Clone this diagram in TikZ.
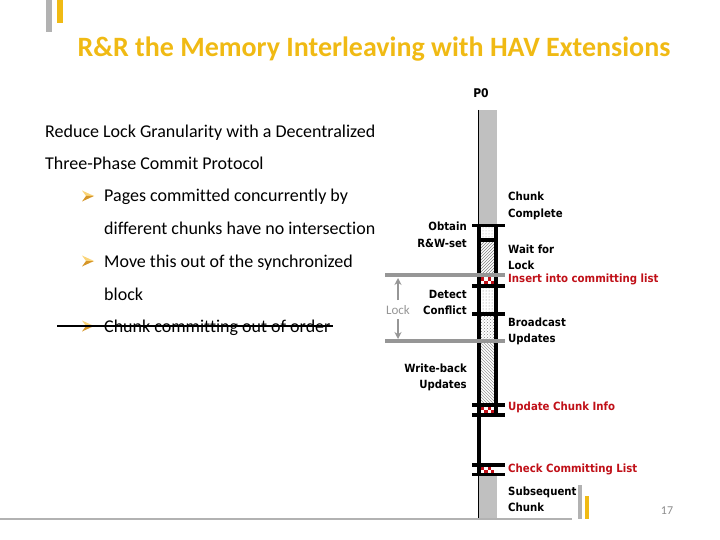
\documentclass[tikz,border=0pt]{standalone}
\usepackage{fontspec}
\setmainfont{Carlito}[Ligatures=CommonOff]
\newfontfamily\lab{DejaVu Sans Condensed}
\usetikzlibrary{patterns,arrows.meta}
\definecolor{ttl}{RGB}{240,186,20}
\definecolor{dred}{RGB}{192,16,24}
\definecolor{lgray}{RGB}{192,192,192}
\definecolor{lockgray}{RGB}{150,150,150}
\definecolor{bulA}{RGB}{250,212,120}
\definecolor{bulB}{RGB}{214,150,40}
\definecolor{pgnum}{RGB}{140,140,140}
\tikzset{
  titletext/.style={font=\bfseries\fontsize{28}{32}\selectfont, text=ttl, inner sep=0},
  body/.style={font=\fontsize{18}{21}\selectfont, inner sep=0, anchor=base west},
  lbl/.style={font=\lab\bfseries\fontsize{11.3}{16.5}\selectfont, inner sep=0},
  lblL/.style={lbl, anchor=west, align=left},
  lblR/.style={lbl, anchor=east, align=right},
  redlbl/.style={lblL, text=dred},
  tick/.style={fill=black},
  lockline/.style={lockgray, line width=4pt},
  lockarrow/.style={lockgray, line width=2pt, -{Stealth[length=7pt,width=7pt]}},
}
\newcommand{\bulletarrow}[2]{%
  \fill[bulA] (#1-6,#2-5.5) -- (#1+6,#2) -- (#1-2,#2) -- cycle;
  \fill[bulB] (#1-6,#2+5.5) -- (#1+6,#2) -- (#1-2,#2) -- cycle;}
\newcommand{\checkrow}[2]{% top y, height
  \fill[white] (481,#1) rectangle (494,#1+#2);
  \foreach \i in {0,1,2,3}{
    \pgfmathsetmacro{\xa}{481+\i*3.25}
    \ifodd\i
      \fill[dred] (\xa,#1+#2/2) rectangle (\xa+3.25,#1+#2);
    \else
      \fill[dred] (\xa,#1) rectangle (\xa+3.25,#1+#2/2);
    \fi
  }}
\begin{document}
\begin{tikzpicture}[x=1pt,y=-1pt]
\useasboundingbox (0,0) rectangle (720,540);
% decoration top-left
\fill[gray!60] (46,0) rectangle (52,32);
\fill[ttl] (57,0) rectangle (63,23);
\node[titletext, anchor=base] (title) at (374,57) {R\&R the Memory Interleaving with HAV Extensions};
% body text
\node[body] (l1) at (45,138) {Reduce Lock Granularity with a Decentralized};
\node[body] (l2) at (45,170) {Three-Phase Commit Protocol};
\node[body] (b1a) at (104,202) {Pages committed concurrently by};
\node[body] (b1b) at (104,235) {different chunks have no intersection};
\node[body] (b2a) at (104,267) {Move this out of the synchronized};
\node[body] (b2b) at (104,300) {block};
\node[body] (b3) at (104,332) {Chunk committing out of order};
\bulletarrow{88}{196}
\bulletarrow{88}{261}
\bulletarrow{88}{326}
\draw[line width=1.3pt] (57,326) -- (333,326);
% P0 column
\node[font=\lab\bfseries\fontsize{12}{14}\selectfont, inner sep=0] (p0) at (481,93) {P0};
\fill[lgray] (478,110) rectangle (497,225);
\draw[line width=0.8pt] (478.4,110) -- (478.4,225);
% segments
\fill[white] (481,227) rectangle (494,403);
\fill[pattern=dots, pattern color=gray!70] (481,227.5) rectangle (494,238);
\fill[pattern=north east lines, pattern color=gray] (481,241.5) rectangle (494,273);
\checkrow{277}{7}
\fill[pattern=dots, pattern color=gray] (481,288) rectangle (494,312);
\fill[pattern=crosshatch dots, pattern color=gray] (481,316) rectangle (494,339);
\fill[pattern=north west lines, pattern color=gray!80] (481,343) rectangle (494,403);
\checkrow{407}{5.5}
\checkrow{467}{5.5}
% borders
\fill (477,224) rectangle (481,476);
\fill (494,224) rectangle (498,416.5);
\fill (477,238) rectangle (498,241.5);
% ticks
\fill[tick] (472,224) rectangle (505,227.5);
\fill[tick] (472,284) rectangle (505,288);
\fill[tick] (472,312) rectangle (505,316);
\fill[tick] (472,403) rectangle (505,407);
\fill[tick] (472,412.5) rectangle (505,416.5);
\fill[tick] (472,463) rectangle (505,467);
\fill[tick] (472,472.5) rectangle (505,476);
% subsequent chunk bar
\fill[lgray] (478,476) rectangle (497,518);
\draw[line width=0.8pt] (478.4,476) -- (478.4,518);
% lock lines
\coordinate (lk1w) at (385,275);
\coordinate (lk1e) at (505,275);
\coordinate (lk2w) at (385,341);
\coordinate (lk2e) at (505,341);
\draw[lockline] (lk1w) -- (lk1e);
\draw[lockline] (lk2w) -- (lk2e);
\node[font=\fontsize{13}{15}\selectfont, text=lockgray, inner sep=0] (lock) at (398,310) {Lock};
\coordinate (la1) at (398,278);
\coordinate (la2) at (398,339);
\draw[lockarrow] (398,300) -- (la1);
\draw[lockarrow] (398,319) -- (la2);
% labels
\node[lblL] (cc) at (508,206) {Chunk\\Complete};
\node[lblR] (ob) at (467,235) {Obtain\\R\&W-set};
\node[lblL] (wl) at (508,257.5) {Wait for\\Lock};
\node[redlbl] (ins) at (508,279.5) {Insert into committing list};
\node[lblR] (dc) at (467,302.5) {Detect\\Conflict};
\node[lblL] (bu) at (508,331.5) {Broadcast\\Updates};
\node[lblR] (wb) at (467,377.5) {Write-back\\Updates};
\node[redlbl] (uci) at (508,407.5) {Update Chunk Info};
\node[redlbl] (ccl) at (508,469.5) {Check Committing List};
\node[lblL] (sc) at (508,499.5) {Subsequent\\Chunk};
% bottom
\draw[gray!60, line width=1.5pt] (0,519) -- (572,519);
\fill[gray!60] (578,485) rectangle (582,519);
\fill[ttl] (585,496) rectangle (589,519);
\node[font=\fontsize{12}{14}\selectfont, text=pgnum, inner sep=0] (pg) at (667,511) {17};
\end{tikzpicture}
\end{document}
